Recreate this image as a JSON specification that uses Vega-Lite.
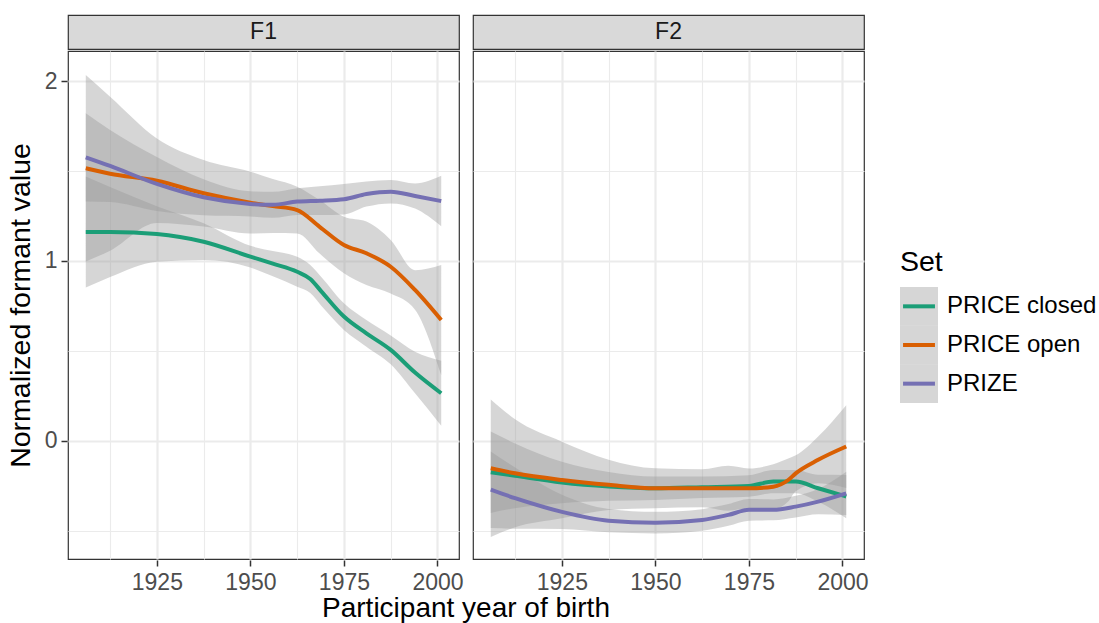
{
  "$schema": "https://vega.github.io/schema/vega-lite/v6.json",
  "padding": {"left": 6, "top": 14, "right": 0, "bottom": 0},
  "background": "white",
  "config": {
    "font": "Liberation Sans",
    "view": {"stroke": null},
    "concat": {"spacing": 0}
  },
  "datasets": {
    "panels": [{"panel": "F1"}, {"panel": "F2"}],
    "sets": [{"set": "PRICE closed"}, {"set": "PRICE open"}, {"set": "PRIZE"}],
    "smooth": [
      {"p": "F1", "set": "PRICE closed", "yr": 1906, "fit": 1.161, "lo": 0.852, "hi": 1.470},
      {"p": "F1", "set": "PRICE closed", "yr": 1912.5, "fit": 1.161, "lo": 0.911, "hi": 1.411},
      {"p": "F1", "set": "PRICE closed", "yr": 1925, "fit": 1.150, "lo": 0.996, "hi": 1.304},
      {"p": "F1", "set": "PRICE closed", "yr": 1937.5, "fit": 1.107, "lo": 1.005, "hi": 1.209},
      {"p": "F1", "set": "PRICE closed", "yr": 1950, "fit": 1.024, "lo": 0.964, "hi": 1.084},
      {"p": "F1", "set": "PRICE closed", "yr": 1956, "fit": 0.985, "lo": 0.915, "hi": 1.055},
      {"p": "F1", "set": "PRICE closed", "yr": 1962.5, "fit": 0.940, "lo": 0.857, "hi": 1.023},
      {"p": "F1", "set": "PRICE closed", "yr": 1966, "fit": 0.900, "lo": 0.822, "hi": 0.978},
      {"p": "F1", "set": "PRICE closed", "yr": 1969, "fit": 0.830, "lo": 0.750, "hi": 0.910},
      {"p": "F1", "set": "PRICE closed", "yr": 1975, "fit": 0.691, "lo": 0.617, "hi": 0.765},
      {"p": "F1", "set": "PRICE closed", "yr": 1981, "fit": 0.598, "lo": 0.524, "hi": 0.672},
      {"p": "F1", "set": "PRICE closed", "yr": 1987.5, "fit": 0.506, "lo": 0.426, "hi": 0.586},
      {"p": "F1", "set": "PRICE closed", "yr": 1994, "fit": 0.380, "lo": 0.265, "hi": 0.495},
      {"p": "F1", "set": "PRICE closed", "yr": 2001, "fit": 0.265, "lo": 0.085, "hi": 0.445},

      {"p": "F1", "set": "PRICE open", "yr": 1906, "fit": 1.515, "lo": 0.997, "hi": 2.033},
      {"p": "F1", "set": "PRICE open", "yr": 1912.5, "fit": 1.485, "lo": 1.057, "hi": 1.913},
      {"p": "F1", "set": "PRICE open", "yr": 1925, "fit": 1.446, "lo": 1.211, "hi": 1.681},
      {"p": "F1", "set": "PRICE open", "yr": 1937.5, "fit": 1.376, "lo": 1.191, "hi": 1.561},
      {"p": "F1", "set": "PRICE open", "yr": 1950, "fit": 1.324, "lo": 1.152, "hi": 1.496},
      {"p": "F1", "set": "PRICE open", "yr": 1956, "fit": 1.305, "lo": 1.155, "hi": 1.455},
      {"p": "F1", "set": "PRICE open", "yr": 1962.5, "fit": 1.283, "lo": 1.153, "hi": 1.413},
      {"p": "F1", "set": "PRICE open", "yr": 1968.5, "fit": 1.190, "lo": 1.041, "hi": 1.339},
      {"p": "F1", "set": "PRICE open", "yr": 1975, "fit": 1.089, "lo": 0.932, "hi": 1.246},
      {"p": "F1", "set": "PRICE open", "yr": 1981, "fit": 1.043, "lo": 0.867, "hi": 1.219},
      {"p": "F1", "set": "PRICE open", "yr": 1987.5, "fit": 0.968, "lo": 0.819, "hi": 1.117},
      {"p": "F1", "set": "PRICE open", "yr": 1994, "fit": 0.839, "lo": 0.729, "hi": 0.949},
      {"p": "F1", "set": "PRICE open", "yr": 2001, "fit": 0.672, "lo": 0.366, "hi": 0.978},

      {"p": "F1", "set": "PRIZE", "yr": 1906, "fit": 1.576, "lo": 1.331, "hi": 1.821},
      {"p": "F1", "set": "PRIZE", "yr": 1912.5, "fit": 1.528, "lo": 1.328, "hi": 1.728},
      {"p": "F1", "set": "PRIZE", "yr": 1925, "fit": 1.428, "lo": 1.278, "hi": 1.578},
      {"p": "F1", "set": "PRIZE", "yr": 1937.5, "fit": 1.354, "lo": 1.254, "hi": 1.454},
      {"p": "F1", "set": "PRIZE", "yr": 1950, "fit": 1.317, "lo": 1.247, "hi": 1.387},
      {"p": "F1", "set": "PRIZE", "yr": 1956, "fit": 1.312, "lo": 1.240, "hi": 1.384},
      {"p": "F1", "set": "PRIZE", "yr": 1962.5, "fit": 1.330, "lo": 1.256, "hi": 1.404},
      {"p": "F1", "set": "PRIZE", "yr": 1968.5, "fit": 1.335, "lo": 1.255, "hi": 1.415},
      {"p": "F1", "set": "PRIZE", "yr": 1975, "fit": 1.343, "lo": 1.258, "hi": 1.428},
      {"p": "F1", "set": "PRIZE", "yr": 1981, "fit": 1.372, "lo": 1.302, "hi": 1.442},
      {"p": "F1", "set": "PRIZE", "yr": 1987.5, "fit": 1.385, "lo": 1.320, "hi": 1.450},
      {"p": "F1", "set": "PRIZE", "yr": 1994, "fit": 1.361, "lo": 1.291, "hi": 1.431},
      {"p": "F1", "set": "PRIZE", "yr": 2001, "fit": 1.333, "lo": 1.193, "hi": 1.473},

      {"p": "F2", "set": "PRICE closed", "yr": 1906, "fit": -0.174, "lo": -0.400, "hi": 0.052},
      {"p": "F2", "set": "PRICE closed", "yr": 1912.5, "fit": -0.194, "lo": -0.374, "hi": -0.014},
      {"p": "F2", "set": "PRICE closed", "yr": 1925, "fit": -0.231, "lo": -0.346, "hi": -0.116},
      {"p": "F2", "set": "PRICE closed", "yr": 1937.5, "fit": -0.253, "lo": -0.333, "hi": -0.173},
      {"p": "F2", "set": "PRICE closed", "yr": 1950, "fit": -0.263, "lo": -0.328, "hi": -0.198},
      {"p": "F2", "set": "PRICE closed", "yr": 1962.5, "fit": -0.257, "lo": -0.317, "hi": -0.197},
      {"p": "F2", "set": "PRICE closed", "yr": 1975, "fit": -0.250, "lo": -0.310, "hi": -0.190},
      {"p": "F2", "set": "PRICE closed", "yr": 1981.5, "fit": -0.226, "lo": -0.291, "hi": -0.161},
      {"p": "F2", "set": "PRICE closed", "yr": 1987.5, "fit": -0.226, "lo": -0.291, "hi": -0.161},
      {"p": "F2", "set": "PRICE closed", "yr": 1993.5, "fit": -0.263, "lo": -0.338, "hi": -0.188},
      {"p": "F2", "set": "PRICE closed", "yr": 2001, "fit": -0.309, "lo": -0.429, "hi": -0.189},

      {"p": "F2", "set": "PRICE open", "yr": 1906, "fit": -0.152, "lo": -0.534, "hi": 0.230},
      {"p": "F2", "set": "PRICE open", "yr": 1912.5, "fit": -0.180, "lo": -0.480, "hi": 0.120},
      {"p": "F2", "set": "PRICE open", "yr": 1925, "fit": -0.217, "lo": -0.430, "hi": -0.004},
      {"p": "F2", "set": "PRICE open", "yr": 1937.5, "fit": -0.244, "lo": -0.384, "hi": -0.104},
      {"p": "F2", "set": "PRICE open", "yr": 1950, "fit": -0.263, "lo": -0.374, "hi": -0.152},
      {"p": "F2", "set": "PRICE open", "yr": 1962.5, "fit": -0.263, "lo": -0.369, "hi": -0.157},
      {"p": "F2", "set": "PRICE open", "yr": 1969.5, "fit": -0.263, "lo": -0.388, "hi": -0.138},
      {"p": "F2", "set": "PRICE open", "yr": 1975, "fit": -0.263, "lo": -0.373, "hi": -0.153},
      {"p": "F2", "set": "PRICE open", "yr": 1981.5, "fit": -0.254, "lo": -0.379, "hi": -0.129},
      {"p": "F2", "set": "PRICE open", "yr": 1985.5, "fit": -0.217, "lo": -0.337, "hi": -0.097},
      {"p": "F2", "set": "PRICE open", "yr": 1987.5, "fit": -0.180, "lo": -0.280, "hi": -0.080},
      {"p": "F2", "set": "PRICE open", "yr": 1993.5, "fit": -0.105, "lo": -0.235, "hi": 0.025},
      {"p": "F2", "set": "PRICE open", "yr": 2001, "fit": -0.031, "lo": -0.261, "hi": 0.199},

      {"p": "F2", "set": "PRIZE", "yr": 1906, "fit": -0.271, "lo": -0.484, "hi": -0.058},
      {"p": "F2", "set": "PRIZE", "yr": 1912.5, "fit": -0.318, "lo": -0.488, "hi": -0.148},
      {"p": "F2", "set": "PRIZE", "yr": 1925, "fit": -0.394, "lo": -0.489, "hi": -0.299},
      {"p": "F2", "set": "PRIZE", "yr": 1937.5, "fit": -0.443, "lo": -0.508, "hi": -0.378},
      {"p": "F2", "set": "PRIZE", "yr": 1950, "fit": -0.454, "lo": -0.514, "hi": -0.394},
      {"p": "F2", "set": "PRIZE", "yr": 1962.5, "fit": -0.439, "lo": -0.499, "hi": -0.379},
      {"p": "F2", "set": "PRIZE", "yr": 1969.5, "fit": -0.411, "lo": -0.471, "hi": -0.351},
      {"p": "F2", "set": "PRIZE", "yr": 1975, "fit": -0.383, "lo": -0.443, "hi": -0.323},
      {"p": "F2", "set": "PRIZE", "yr": 1981.5, "fit": -0.383, "lo": -0.441, "hi": -0.325},
      {"p": "F2", "set": "PRIZE", "yr": 1987.5, "fit": -0.365, "lo": -0.425, "hi": -0.305},
      {"p": "F2", "set": "PRIZE", "yr": 1993.5, "fit": -0.337, "lo": -0.407, "hi": -0.267},
      {"p": "F2", "set": "PRIZE", "yr": 2001, "fit": -0.291, "lo": -0.411, "hi": -0.171}
    ]
  },
  "hconcat": [
    {
      "spacing": 0,
      "vconcat": [
        {
          "data": {"name": "panels"},
          "facet": {"column": {"field": "panel", "type": "nominal", "header": null}},
          "spacing": 12,
          "spec": {
            "width": 391,
            "height": 34,
            "view": {"fill": "#d9d9d9", "stroke": "#333333", "strokeWidth": 1.2},
            "mark": {"type": "text", "fontSize": 23, "color": "#1a1a1a", "font": "Liberation Sans"},
            "encoding": {"text": {"field": "panel", "type": "nominal"}}
          }
        },
        {
          "data": {"name": "smooth"},
          "facet": {
            "column": {
              "field": "p",
              "type": "nominal",
              "header": {
                "labels": false,
                "labelOrient": "bottom",
                "labelPadding": 0,
                "title": "Participant year of birth",
                "titleOrient": "bottom",
                "titleFontSize": 28,
                "titleFontWeight": "normal",
                "titleColor": "black",
                "titleFont": "Liberation Sans",
                "titlePadding": -9
              }
            }
          },
          "spacing": 12,
          "spec": {
            "width": 391,
            "height": 508,
            "view": {"stroke": "#333333", "strokeWidth": 1.2},
            "resolve": {"axis": {"x": "independent", "y": "independent"}},
            "layer": [
              {
                "mark": {"type": "area", "fill": "#999999", "opacity": 0.4, "interpolate": "monotone"},
                "encoding": {
                  "x": {
                    "field": "yr", "type": "quantitative",
                    "scale": {"domain": [1901.25, 2005.75], "nice": false, "zero": false},
                    "axis": {
                      "title": null, "values": [1925, 1950, 1975, 2000], "format": "d",
                      "grid": true, "gridColor": "#ebebeb", "gridWidth": 2.2,
                      "domain": false, "tickSize": 6, "tickColor": "#333333", "tickWidth": 1.5,
                      "labelFontSize": 23, "labelColor": "#4d4d4d", "labelPadding": 5, "labelFont": "Liberation Sans"
                    }
                  },
                  "y": {
                    "field": "lo", "type": "quantitative",
                    "scale": {"domain": [-0.656, 2.1667], "nice": false, "zero": false},
                    "axis": {
                      "title": "Normalized formant value", "titleFontSize": 28.5, "titleFontWeight": "normal",
                      "titleColor": "black", "titleFont": "Liberation Sans", "titlePadding": 9,
                      "values": [0, 1, 2], "format": "d",
                      "grid": true, "gridColor": "#ebebeb", "gridWidth": 2.2,
                      "domain": false, "tickSize": 6, "tickColor": "#333333", "tickWidth": 1.5,
                      "labelFontSize": 23, "labelColor": "#4d4d4d", "labelPadding": 4, "labelFont": "Liberation Sans"
                    }
                  },
                  "y2": {"field": "hi"},
                  "detail": {"field": "set", "type": "nominal"}
                }
              },
              {
                "mark": {"type": "line", "strokeWidth": 4, "interpolate": "monotone"},
                "encoding": {
                  "x": {
                    "field": "yr", "type": "quantitative",
                    "axis": {
                      "orient": "bottom", "title": null, "values": [1912.5, 1937.5, 1962.5, 1987.5],
                      "grid": true, "gridColor": "#ebebeb", "gridWidth": 1.1,
                      "labels": false, "ticks": false, "domain": false
                    }
                  },
                  "y": {
                    "field": "fit", "type": "quantitative",
                    "axis": {
                      "orient": "left", "title": null, "values": [-0.5, 0.5, 1.5],
                      "grid": true, "gridColor": "#ebebeb", "gridWidth": 1.1,
                      "labels": false, "ticks": false, "domain": false
                    }
                  },
                  "color": {
                    "field": "set", "type": "nominal",
                    "scale": {"domain": ["PRICE closed", "PRICE open", "PRIZE"], "range": ["#1b9e77", "#d95f02", "#7570b3"]},
                    "legend": null
                  }
                }
              }
            ]
          }
        }
      ]
    },
    {
      "spacing": 0,
      "vconcat": [
        {
          "data": {"values": []},
          "width": 10,
          "height": 12,
          "mark": "point",
          "encoding": {}
        },
        {
          "data": {"name": "sets"},
          "title": {"text": "Set", "anchor": "start", "fontSize": 28.5, "fontWeight": "normal", "color": "black", "font": "Liberation Sans", "offset": 11},
          "spacing": 9,
          "hconcat": [
            {
              "width": 38,
              "height": 116,
              "layer": [
                {
                  "mark": {"type": "bar", "fill": "#999999", "opacity": 0.4},
                  "encoding": {
                    "y": {"field": "set", "type": "nominal", "scale": {"paddingInner": 0, "paddingOuter": 0}, "axis": null}
                  }
                },
                {
                  "mark": {"type": "rule", "strokeWidth": 4},
                  "encoding": {
                    "y": {"field": "set", "type": "nominal", "axis": null},
                    "x": {"datum": 0.08, "type": "quantitative", "scale": {"domain": [0, 1], "nice": false, "zero": false}, "axis": null},
                    "x2": {"datum": 0.92},
                    "color": {
                      "field": "set", "type": "nominal",
                      "scale": {"domain": ["PRICE closed", "PRICE open", "PRIZE"], "range": ["#1b9e77", "#d95f02", "#7570b3"]},
                      "legend": null
                    }
                  }
                }
              ]
            },
            {
              "width": 150,
              "height": 116,
              "mark": {"type": "text", "align": "left", "fontSize": 24, "color": "black", "font": "Liberation Sans"},
              "encoding": {
                "y": {"field": "set", "type": "nominal", "axis": null},
                "x": {"datum": 0, "type": "quantitative", "scale": {"domain": [0, 1], "nice": false, "zero": false}, "axis": null},
                "text": {"field": "set", "type": "nominal"}
              }
            }
          ]
        }
      ]
    }
  ],
  "spacing": 31,
  "center": true
}
